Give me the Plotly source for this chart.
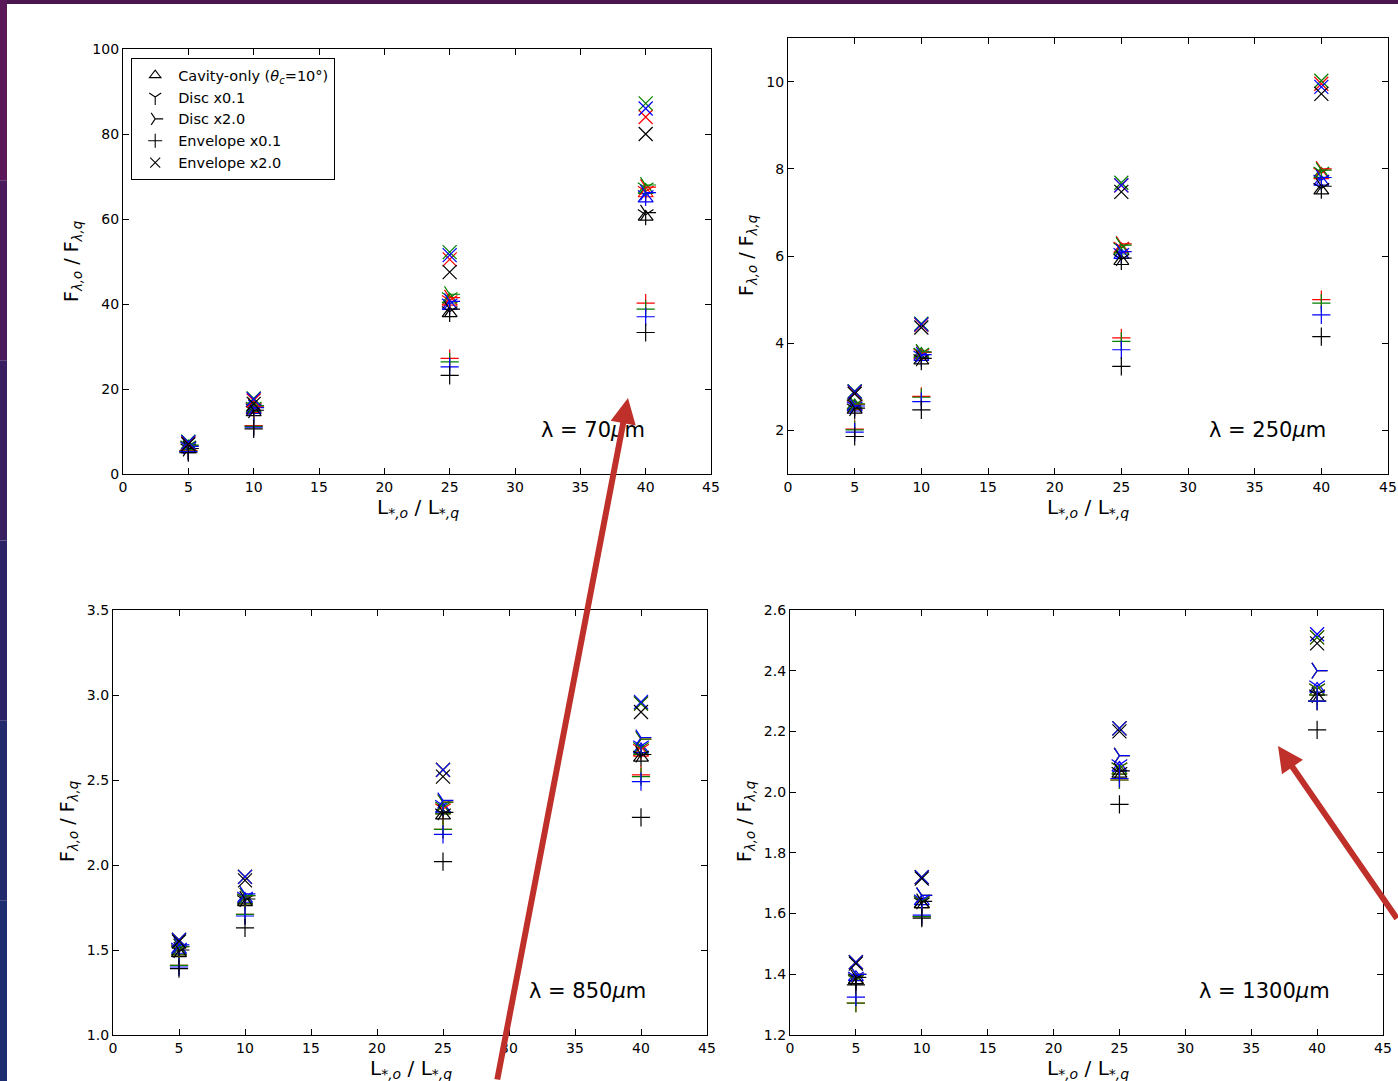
import plotly.graph_objects as go

W, H = 1398, 1081

# ---------------- data ----------------
lum_ratio = [5, 10, 25, 40]
series_colors = ["#ff0000", "#008000", "#0000ff", "#000000"]
model_names = ["Cavity-only (<i>θ</i><sub><i>c</i></sub>=10°)", "Disc x0.1", "Disc x2.0",
               "Envelope x0.1", "Envelope x2.0"]
model_symbols = ["triangle-up-open", "y-down-open", "y-right-open", "cross-thin-open", "x-thin-open"]
wavelength_labels = ["70", "250", "850", "1300"]

# rows = red, green, blue, black series ; columns = lum_ratio
f70_cavity = [[6.3, 15.2, 40.5, 66.0], [6.5, 15.5, 41.0, 66.8], [6.2, 15.0, 39.5, 64.8], [5.8, 14.5, 37.8, 60.5]]
f70_disc01 = [[6.4, 15.4, 40.8, 66.5], [6.6, 15.7, 41.5, 67.3], [6.3, 15.2, 40.0, 65.5], [5.9, 14.7, 38.2, 61.0]]
f70_disc20 = [[6.6, 15.8, 41.5, 67.5], [6.8, 16.1, 42.3, 68.0], [6.5, 15.6, 40.6, 66.2], [6.0, 15.0, 38.8, 61.5]]
f70_env01 = [[5.5, 11.4, 27.2, 40.2], [5.4, 11.2, 26.4, 38.8], [5.3, 11.0, 25.2, 37.0], [5.0, 10.6, 23.2, 33.3]]
f70_env20 = [[7.3, 17.3, 50.5, 84.0], [7.6, 17.8, 52.2, 87.2], [7.5, 17.6, 51.5, 86.0], [7.0, 16.5, 47.5, 80.0]]

f250_cavity = [[2.55, 3.72, 6.15, 7.85], [2.57, 3.75, 6.12, 7.88], [2.52, 3.68, 6.02, 7.70], [2.47, 3.60, 5.88, 7.50]]
f250_disc01 = [[2.57, 3.75, 6.20, 7.90], [2.59, 3.77, 6.18, 7.92], [2.54, 3.70, 6.06, 7.74], [2.49, 3.62, 5.92, 7.55]]
f250_disc20 = [[2.60, 3.79, 6.28, 8.00], [2.61, 3.80, 6.25, 7.97], [2.56, 3.74, 6.10, 7.80], [2.51, 3.65, 5.95, 7.60]]
f250_env01 = [[2.03, 2.78, 4.12, 5.00], [2.01, 2.76, 4.04, 4.92], [1.96, 2.66, 3.85, 4.65], [1.86, 2.47, 3.47, 4.15]]
f250_env20 = [[2.88, 4.42, 7.62, 9.95], [2.90, 4.45, 7.68, 10.02], [2.89, 4.43, 7.62, 9.88], [2.84, 4.36, 7.47, 9.72]]

f850_cavity = [[1.49, 1.79, 2.32, 2.66], [1.49, 1.79, 2.32, 2.67], [1.50, 1.80, 2.33, 2.68], [1.48, 1.78, 2.29, 2.63]]
f850_disc01 = [[1.50, 1.80, 2.33, 2.68], [1.50, 1.80, 2.34, 2.69], [1.51, 1.81, 2.35, 2.70], [1.49, 1.79, 2.30, 2.64]]
f850_disc20 = [[1.52, 1.82, 2.37, 2.74], [1.52, 1.82, 2.37, 2.74], [1.53, 1.83, 2.38, 2.75], [1.50, 1.80, 2.31, 2.65]]
f850_env01 = [[1.41, 1.71, 2.21, 2.53], [1.41, 1.71, 2.21, 2.52], [1.40, 1.70, 2.18, 2.49], [1.39, 1.63, 2.02, 2.28]]
f850_env20 = [[1.56, 1.93, 2.56, 2.95], [1.56, 1.93, 2.56, 2.95], [1.56, 1.93, 2.56, 2.96], [1.55, 1.91, 2.52, 2.90]]

f1300_cavity = [[1.38, 1.63, 2.07, 2.33], [1.38, 1.63, 2.07, 2.33], [1.39, 1.64, 2.08, 2.34], [1.38, 1.63, 2.06, 2.31]]
f1300_disc01 = [[1.38, 1.64, 2.08, 2.34], [1.38, 1.64, 2.08, 2.34], [1.39, 1.645, 2.09, 2.35], [1.385, 1.635, 2.065, 2.32]]
f1300_disc20 = [[1.40, 1.66, 2.12, 2.40], [1.40, 1.66, 2.12, 2.40], [1.40, 1.66, 2.12, 2.40], [1.39, 1.64, 2.07, 2.32]]
f1300_env01 = [[1.305, 1.59, 2.04, 2.30], [1.305, 1.59, 2.04, 2.30], [1.325, 1.595, 2.045, 2.30], [1.365, 1.585, 1.96, 2.205]]
f1300_env20 = [[1.44, 1.72, 2.21, 2.51], [1.44, 1.72, 2.21, 2.51], [1.44, 1.72, 2.21, 2.52], [1.435, 1.715, 2.20, 2.49]]

panel_data = [
    [f70_cavity, f70_disc01, f70_disc20, f70_env01, f70_env20],
    [f250_cavity, f250_disc01, f250_disc20, f250_env01, f250_env20],
    [f850_cavity, f850_disc01, f850_disc20, f850_env01, f850_env20],
    [f1300_cavity, f1300_disc01, f1300_disc20, f1300_env01, f1300_env20],
]

x_ticks = [0, 5, 10, 15, 20, 25, 30, 35, 40, 45]
y_ranges = [[0, 100], [1, 11], [1.0, 3.5], [1.2, 2.6]]
y_ticks = [
    [0, 20, 40, 60, 80, 100],
    [2, 4, 6, 8, 10],
    [1.0, 1.5, 2.0, 2.5, 3.0, 3.5],
    [1.2, 1.4, 1.6, 1.8, 2.0, 2.2, 2.4, 2.6],
]
y_ticktext = [
    ["0", "20", "40", "60", "80", "100"],
    ["2", "4", "6", "8", "10"],
    ["1.0", "1.5", "2.0", "2.5", "3.0", "3.5"],
    ["1.2", "1.4", "1.6", "1.8", "2.0", "2.2", "2.4", "2.6"],
]

# ---------------- layout helpers ----------------
def px(x):
    return x / W

def py(y):
    return 1 - y / H

# pixel boxes (left, right, top, bottom)
boxes = [(123, 711, 49, 474), (788, 1388, 38, 474), (113, 707, 610, 1035), (790, 1383, 610, 1035)]

FONT = "DejaVu Sans"
fig = go.Figure()

for p in range(4):
    ax = "" if p == 0 else str(p + 1)
    for m in range(5):
        for c in range(4):
            fig.add_trace(go.Scatter(
                x=lum_ratio, y=panel_data[p][m][c], mode="markers",
                xaxis="x" + ax, yaxis="y" + ax, showlegend=False,
                marker=dict(symbol=model_symbols[m], size=13 if m != 4 else 14,
                            color=series_colors[c],
                            line=dict(color=series_colors[c], width=1.2)),
                hoverinfo="x+y",
            ))

# legend entries (black markers)
for m in range(5):
    fig.add_trace(go.Scatter(
        x=[None], y=[None], mode="markers", name=model_names[m],
        xaxis="x", yaxis="y", showlegend=True,
        marker=dict(symbol=model_symbols[m], size=10, color="#000000",
                    line=dict(color="#000000", width=1.1)),
    ))

axis_common = dict(
    showgrid=False, zeroline=False, showline=True, linecolor="#000000", linewidth=1.2,
    mirror="ticks", ticks="inside", ticklen=6, tickcolor="#000000", tickwidth=1,
    tickfont=dict(family=FONT, size=14, color="#000000"), automargin=False,
)

layout = dict(
    width=W, height=H, margin=dict(l=0, r=0, t=0, b=0),
    paper_bgcolor="#ffffff", plot_bgcolor="#ffffff",
    font=dict(family=FONT, color="#000000"),
    showlegend=True,
    legend=dict(x=px(131), y=py(58), xanchor="left", yanchor="top",
                bordercolor="#000000", borderwidth=1.2, bgcolor="#ffffff",
                font=dict(family=FONT, size=14.5, color="#000000"),
                itemwidth=36, tracegroupgap=0),
)

for p in range(4):
    l, r, t, b = boxes[p]
    ax = "" if p == 0 else str(p + 1)
    layout["xaxis" + ax] = dict(axis_common, domain=[px(l), px(r)], range=[0, 45],
                                tickvals=x_ticks, ticktext=[str(v) for v in x_ticks],
                                anchor="y" + ax)
    layout["yaxis" + ax] = dict(axis_common, domain=[py(b), py(t)], range=y_ranges[p],
                                tickvals=y_ticks[p], ticktext=y_ticktext[p],
                                anchor="x" + ax)

fig.update_layout(**layout)

annotations = []
ytitle = "F<sub><i>λ,o</i></sub> / F<sub><i>λ,q</i></sub>"
xtitle = "L<sub><i>*,o</i></sub> / L<sub><i>*,q</i></sub>"
ytitle_pos = [(73, 262), (748, 256), (68, 822), (745, 822)]
xtitle_top = [(418, 493), (1088, 493), (411, 1054), (1088, 1054)]
lam_pos = [(647, 430), (1328, 430), (648, 991), (1332, 991)]
for p in range(4):
    annotations.append(dict(text=ytitle, x=px(ytitle_pos[p][0]), y=py(ytitle_pos[p][1]),
                            xref="paper", yref="paper", xanchor="center", yanchor="middle",
                            showarrow=False, textangle=-90,
                            font=dict(family=FONT, size=19, color="#000000")))
    annotations.append(dict(text=xtitle, x=px(xtitle_top[p][0]), y=py(xtitle_top[p][1]),
                            xref="paper", yref="paper", xanchor="center", yanchor="top",
                            showarrow=False,
                            font=dict(family=FONT, size=20, color="#000000")))
    annotations.append(dict(text="λ = " + wavelength_labels[p] + "<i>μ</i>m",
                            x=px(lam_pos[p][0]), y=py(lam_pos[p][1]),
                            xref="paper", yref="paper", xanchor="right", yanchor="middle",
                            showarrow=False,
                            font=dict(family=FONT, size=21, color="#000000")))

# red arrows drawn on the slide
arrow_color = "#c0302a"
annotations.append(dict(text="", x=px(628), y=py(398), xref="paper", yref="paper",
                        ax=497 - 628, ay=1081 - 398, axref="pixel", ayref="pixel",
                        showarrow=True, arrowhead=2, arrowsize=0.85, arrowwidth=6,
                        arrowcolor=arrow_color))
annotations.append(dict(text="", x=px(1278), y=py(746), xref="paper", yref="paper",
                        ax=1398 - 1278, ay=920 - 746, axref="pixel", ayref="pixel",
                        showarrow=True, arrowhead=2, arrowsize=0.85, arrowwidth=6,
                        arrowcolor=arrow_color))
fig.update_layout(annotations=annotations)

# slide background frame (top and left dark strips)
shapes = [
    dict(type="rect", xref="paper", yref="paper", x0=0, x1=1, y0=py(4), y1=1,
         fillcolor="#4a1650", line=dict(width=0), layer="above"),
]
strip_cols = ["#5a1858", "#4a1a5c", "#3a1e62", "#2c2266", "#222a6c", "#1c2e70"]
n = len(strip_cols)
for i, col in enumerate(strip_cols):
    shapes.append(dict(type="rect", xref="paper", yref="paper", x0=0, x1=px(7),
                       y0=1 - (i + 1) / n, y1=1 - i / n, fillcolor=col,
                       line=dict(width=0), layer="above"))
fig.update_layout(shapes=shapes)

fig.write_html("out.html", config={"displayModeBar": False},
               post_script="document.body.style.margin='0';document.body.style.overflow='hidden';")
